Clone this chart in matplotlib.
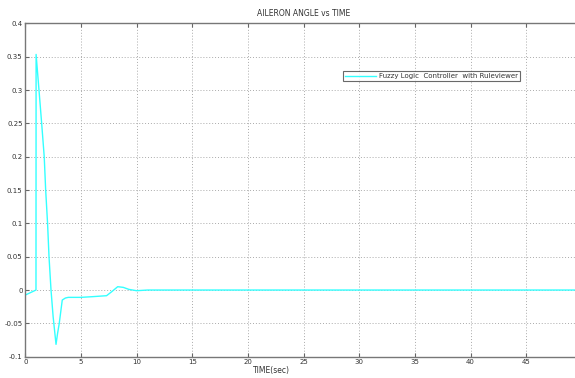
import matplotlib.pyplot as plt

# aileron angle response
time = [0, 0.96, 0.97, 1.23, 1.47, 1.70, 1.83, 2.0, 2.13, 2.31, 2.5, 2.76, 2.9, 3.05,
        3.32, 3.6, 3.86, 5, 6, 7.3, 7.8, 8.3, 8.8, 9.3, 10, 11, 50]
angle = [-0.0075, 0, 0.3535, 0.3, 0.25, 0.2, 0.15, 0.1, 0.05, 0, -0.04, -0.0815, -0.065, -0.05,
         -0.015, -0.012, -0.011, -0.011, -0.010, -0.0085, -0.002, 0.005, 0.004, 0.001, -0.001, 0, 0]

x_ticks = [0, 5, 10, 15, 20, 25, 30, 35, 40, 45, 50]
y_ticks = [-0.1, -0.05, 0, 0.05, 0.1, 0.15, 0.2, 0.25, 0.3, 0.35, 0.4]
y_labels = ['-0.1', '-0.05', '0', '0.05', '0.1', '0.15', '0.2', '0.25', '0.3', '0.35', '0.4']

fig = plt.figure(figsize=(5.75, 3.78), dpi=100)
ax = fig.add_axes([0.044, 0.0564, 0.968, 0.8816])

ax.plot(time, angle, color='#33ffff', lw=1.0,
        label='Fuzzy Logic  Controller  with Ruleviewer')

ax.set_xlim(0, 50)
ax.set_ylim(-0.1, 0.4)
ax.set_xticks(x_ticks)
ax.set_xticklabels([str(t) for t in x_ticks])
ax.set_yticks(y_ticks)
ax.set_yticklabels(y_labels)
ax.tick_params(direction='in', length=3, width=0.8, colors='#666666',
               labelcolor='#333333', labelsize=5, top=True, right=True, pad=2)

ax.grid(True, linestyle=(0, (1, 2)), color='#aaaaaa', lw=0.7)
for s in ax.spines.values():
    s.set_color('#777777')
    s.set_linewidth(1.0)

ax.set_title('AILERON ANGLE vs TIME', fontsize=5.5, color='#333333', pad=5)
ax.set_xlabel('TIME(sec)', fontsize=5.5, color='#333333', labelpad=1)
ax.xaxis.set_label_coords(0.443, -0.028)

leg = ax.legend(loc='upper left', bbox_to_anchor=(343 / 575, 1 - 71 / 378),
                bbox_transform=fig.transFigure, fontsize=5, frameon=True,
                fancybox=False, handlelength=4.5, borderpad=0.3, handletextpad=0.4,
                borderaxespad=0)
leg.get_frame().set_edgecolor('#444444')
leg.get_frame().set_linewidth(0.8)
for t in leg.get_texts():
    t.set_color('#333333')

fig.savefig('out.png', dpi=100)
